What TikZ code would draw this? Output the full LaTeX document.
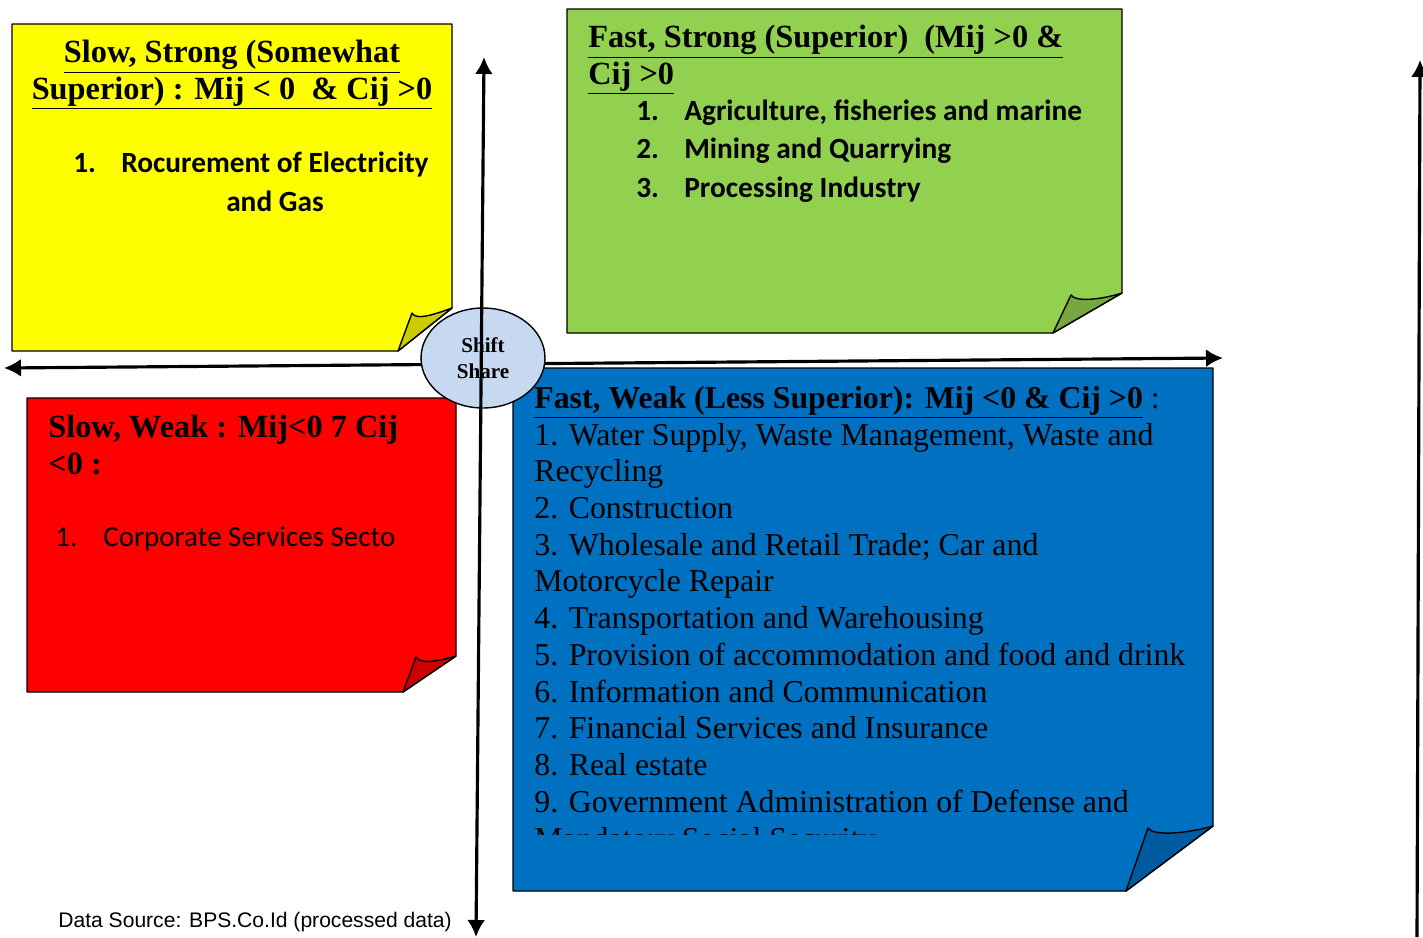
\documentclass[tikz,border=0pt]{standalone}
\usepackage{fontspec}
\setmainfont{Liberation Serif}
\newfontfamily\carlito{Carlito}
\newfontfamily\arialfont{Liberation Sans}
\usetikzlibrary{arrows.meta,shapes.geometric}
\definecolor{yellowpaper}{RGB}{255,255,0}
\definecolor{yellowfold}{RGB}{204,204,0}
\definecolor{greenpaper}{RGB}{146,208,80}
\definecolor{greenfold}{RGB}{118,168,63}
\definecolor{redpaper}{RGB}{255,0,0}
\definecolor{redfold}{RGB}{204,0,0}
\definecolor{bluepaper}{RGB}{0,112,192}
\definecolor{bluefold}{RGB}{0,90,160}
\definecolor{shiftfill}{RGB}{198,217,241}

\begin{document}
\begin{tikzpicture}[x=0.02cm, y=-0.02cm,
        paper/.style={draw, line width=0.8pt, line join=round},
        axis/.style={line width=1.8pt},
        head/.style={inner sep=0pt, font=\fontsize{18.4}{20.6}\selectfont\bfseries},
        item/.style={inner sep=0pt, font=\carlito\fontsize{16.7}{21.9}\selectfont\bfseries},
        plain/.style={inner sep=0pt, font=\carlito\fontsize{16.5}{19}\selectfont},
        >={Latex[length=3.4mm,width=3.6mm]}]
      \useasboundingbox (0,0) rectangle (1423,937);
      % sticky notes
      \draw[paper, fill=yellowpaper] (12,24) -- (452,24) -- (452,308) -- (398,351) -- (12,351) -- cycle;
      \draw[paper, fill=yellowfold] (398,351) -- (412,313) .. controls (416,320) and (430,316) .. (452,308) -- cycle;
      \draw[paper, fill=greenpaper] (567,9) -- (1122,9) -- (1122,293) -- (1053,333) -- (567,333) -- cycle;
      \draw[paper, fill=greenfold] (1053,333) -- (1071,295) .. controls (1075,302) and (1100,300) .. (1122,293) -- cycle;
      \draw[paper, fill=redpaper] (27,398) -- (456,398) -- (456,656) -- (403,692) -- (27,692) -- cycle;
      \draw[paper, fill=redfold] (403,692) -- (416,657) .. controls (420,664) and (436,662) .. (456,656) -- cycle;
      \draw[paper, fill=bluepaper] (513,368) -- (1213,368) -- (1213,826) -- (1126,891) -- (513,891) -- cycle;
      \draw[paper, fill=bluefold] (1126,891) -- (1148,828) .. controls (1153,836) and (1185,834) .. (1213,826) -- cycle;
      % axes
      \coordinate (west) at (4,368);
      \coordinate (east) at (1223,358);
      \coordinate (north) at (484,57);
      \coordinate (south) at (476,937);
      \coordinate (edgetop) at (1420,60);
      \coordinate (edgebot) at (1417,937);
      \draw[axis, <->] (west) -- (east);
      \node (shift) at (483,358) [ellipse, draw, line width=0.8pt, fill=shiftfill,
        minimum width=2.48cm, minimum height=2cm, inner sep=0pt, align=center,
        font=\fontsize{12}{14.7}\selectfont\bfseries] {Shift\\Share};
      \draw[axis, <->] (north) -- (south);
      \draw[axis, ->] (edgebot) -- (edgetop);
      % slow, strong
      \node (sshead) at (232,99) [head, anchor=base, align=center]
        {\underline{Slow, Strong (Somewhat}\\\underline{Superior) : Mij < 0 \ \& Cij >0}};
      \node (ssnum) at (73,172) [item, anchor=base west] {1.};
      \node (sslist) at (275,211) [item, anchor=base, align=center]
        {Rocurement of Electricity\\and Gas};
      % fast, strong
      \node (fshead) at (588,84) [head, anchor=base west, align=left]
        {\underline{Fast, Strong (Superior) \ (Mij >0 \&}\\\underline{Cij >0}};
      \node (fslist) at (636,197) [item, anchor=base west, align=left]
        {\makebox[0.96cm][l]{1.}Agriculture, fisheries and marine\\
         \makebox[0.96cm][l]{2.}Mining and Quarrying\\
         \makebox[0.96cm][l]{3.}Processing Industry};
      % slow, weak
      \node (swhead) at (48,474) [head, anchor=base west, align=left]
        {Slow, Weak : Mij<0 7 Cij\\<0 :};
      \node (swnum) at (55,546) [plain, anchor=base west] {1.};
      \node (swlist) at (103,546) [plain, anchor=base west] {Corporate Services Secto};
      % fast, weak
      \begin{scope}
        \clip (513,368) rectangle (1213,834);
        \node (fwlist) at (534,849) [inner sep=0pt, anchor=base west, align=left,
          font=\fontsize{18.1}{20.9}\selectfont]
          {{\bfseries\underline{Fast, Weak (Less Superior): Mij <0 \& Cij >0}} :\\
           1. Water Supply, Waste Management, Waste and\\
           Recycling\\
           2. Construction\\
           3. Wholesale and Retail Trade; Car and\\
           Motorcycle Repair\\
           4. Transportation and Warehousing\\
           5. Provision of accommodation and food and drink\\
           6. Information and Communication\\
           7. Financial Services and Insurance\\
           8. Real estate\\
           9. Government Administration of Defense and\\
           Mandatory Social Security};
      \end{scope}
      \node (source) at (58,927) [inner sep=0pt, anchor=base west,
        font=\arialfont\fontsize{12}{14}\selectfont] {Data Source: BPS.Co.Id (processed data)};
    \end{tikzpicture}
\end{document}
